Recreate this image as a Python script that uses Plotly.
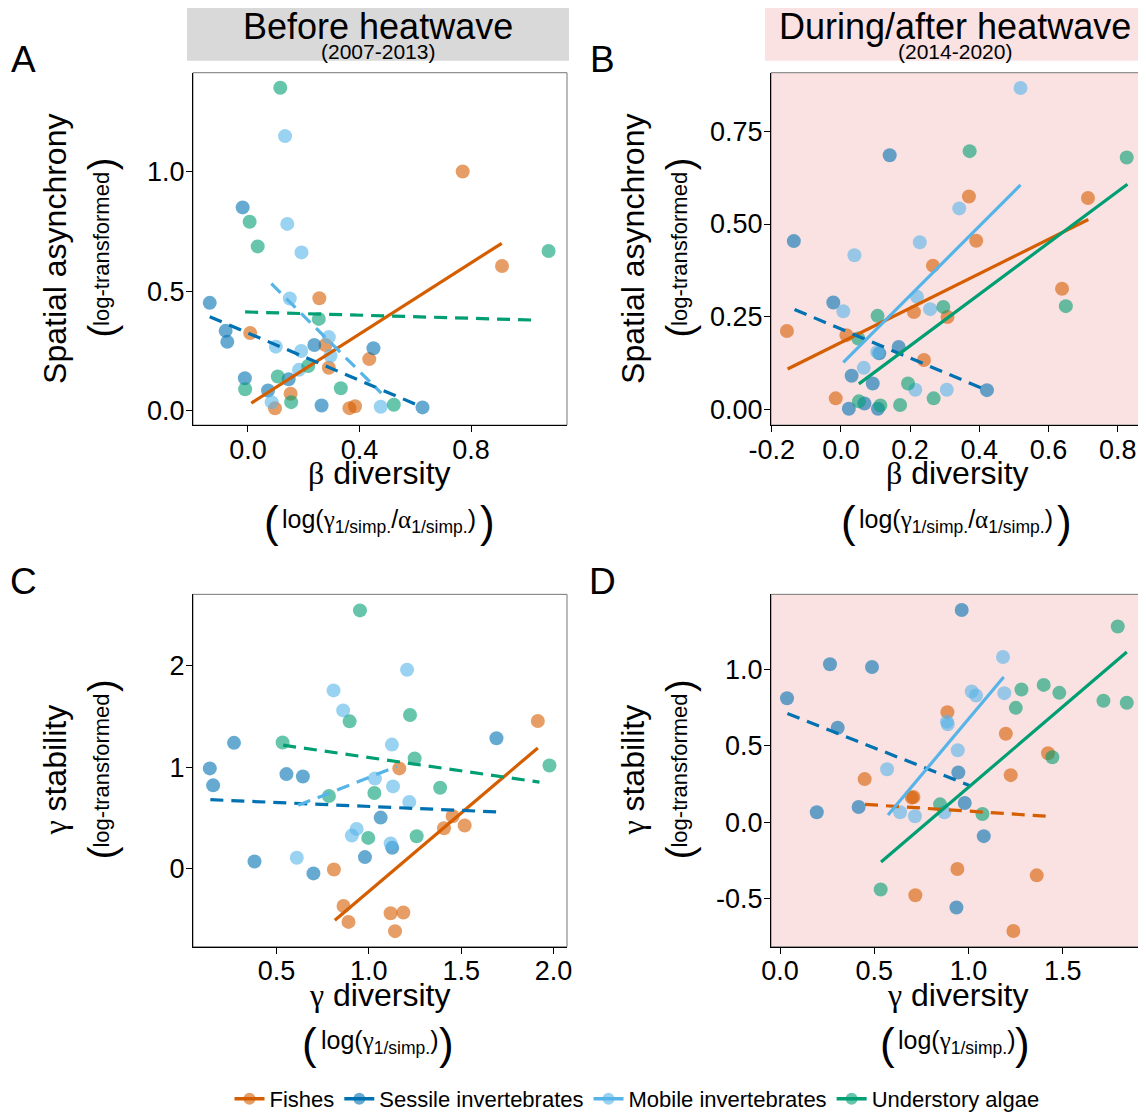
import plotly.graph_objects as go

# The page body has an 8px margin, so the figure is drawn 8px in from the window edge.
OFF = 8
W, H = 1146 - OFF, 1120 - OFF
FONT = "Liberation Sans, Arial, sans-serif"

groups = ["Fishes", "Sessile invertebrates", "Mobile invertebrates", "Understory algae"]
group_colors = ["#D55E00", "#0072B2", "#56B4E9", "#009E73"]

# ---------------- Panel A (before, beta diversity vs asynchrony) ----------------
a_fishes_x = [0.770, 0.911, 0.256, 0.008, 0.278, 0.290, 0.435, 0.153, 0.097, 0.364, 0.384]
a_fishes_y = [1.000, 0.605, 0.470, 0.325, 0.275, 0.180, 0.216, 0.071, 0.010, 0.011, 0.019]
a_sessile_x = [-0.019, -0.137, -0.080, -0.074, -0.011, 0.072, 0.146, 0.238, 0.450, 0.264, 0.626]
a_sessile_y = [0.850, 0.451, 0.334, 0.288, 0.136, 0.085, 0.132, 0.275, 0.261, 0.022, 0.014]
a_mobile_x = [0.133, 0.141, 0.192, 0.150, 0.100, 0.290, 0.191, 0.296, 0.183, 0.085, 0.476]
a_mobile_y = [1.148, 0.781, 0.662, 0.469, 0.268, 0.308, 0.250, 0.230, 0.171, 0.036, 0.017]
a_algae_x = [0.116, 0.006, 0.035, 1.078, 0.254, 0.216, 0.107, -0.010, 0.155, 0.333, 0.523]
a_algae_y = [1.350, 0.790, 0.687, 0.668, 0.384, 0.187, 0.143, 0.090, 0.036, 0.094, 0.025]
a_fit_x = [[0.012, 0.910], [-0.137, 0.620], [0.084, 0.478], [-0.010, 1.027]]
a_fit_y = [[0.032, 0.700], [0.393, 0.018], [0.531, 0.074], [0.413, 0.379]]
a_fit_sig = [True, False, False, False]

# ---------------- Panel B (during/after, beta diversity vs asynchrony) ----------------
b_fishes_x = [0.370, 0.714, 0.391, 0.266, 0.639, 0.211, 0.308, 0.016, -0.156, 0.240, -0.015]
b_fishes_y = [0.574, 0.570, 0.455, 0.388, 0.326, 0.263, 0.250, 0.201, 0.212, 0.134, 0.031]
b_sessile_x = [-0.136, 0.141, -0.022, 0.167, 0.111, 0.031, 0.092, 0.023, 0.068, 0.107, 0.422]
b_sessile_y = [0.454, 0.685, 0.289, 0.169, 0.152, 0.092, 0.071, 0.003, 0.017, 0.003, 0.053]
b_mobile_x = [0.519, 0.342, 0.228, 0.039, 0.220, 0.258, 0.007, 0.066, 0.215, 0.306, 0.105]
b_mobile_y = [0.866, 0.542, 0.451, 0.416, 0.304, 0.271, 0.265, 0.113, 0.054, 0.054, 0.156]
b_algae_x = [0.372, 0.826, 0.650, 0.296, 0.106, 0.050, 0.194, 0.268, 0.052, 0.114, 0.171]
b_algae_y = [0.696, 0.679, 0.279, 0.277, 0.253, 0.192, 0.071, 0.031, 0.023, 0.012, 0.013]
b_fit_x = [[-0.154, 0.715], [-0.134, 0.421], [0.007, 0.519], [0.052, 0.828]]
b_fit_y = [[0.110, 0.512], [0.270, 0.053], [0.128, 0.605], [0.070, 0.607]]
b_fit_sig = [True, False, True, True]

# ---------------- Panel C (before, gamma diversity vs gamma stability) ----------------
c_fishes_x = [1.915, 1.165, 1.454, 1.407, 1.519, 0.811, 0.863, 0.890, 1.118, 1.187, 1.142]
c_fishes_y = [1.457, 0.989, 0.517, 0.399, 0.426, -0.007, -0.367, -0.524, -0.439, -0.432, -0.615]
c_sessile_x = [0.139, 0.157, 0.270, 0.554, 0.643, 1.691, 1.064, 1.127, 0.979, 0.381, 0.700]
c_sessile_y = [0.989, 0.822, 1.241, 0.933, 0.910, 1.286, 0.504, 0.206, 0.115, 0.072, -0.046]
c_mobile_x = [1.207, 0.809, 0.861, 1.125, 1.033, 1.131, 1.219, 0.934, 0.908, 1.118, 0.610]
c_mobile_y = [1.961, 1.758, 1.561, 1.224, 0.890, 0.812, 0.658, 0.393, 0.327, 0.249, 0.108]
c_algae_x = [0.952, 1.223, 0.896, 0.533, 1.248, 1.978, 1.386, 1.030, 0.784, 0.997, 1.259]
c_algae_y = [2.547, 1.516, 1.453, 1.244, 1.087, 1.018, 0.799, 0.746, 0.717, 0.304, 0.321]
c_fit_x = [[0.816, 1.915], [0.142, 1.693], [0.617, 1.151], [0.536, 1.924]]
c_fit_y = [[-0.507, 1.191], [0.681, 0.560], [0.625, 1.008], [1.218, 0.854]]
c_fit_sig = [True, False, False, False]

# ---------------- Panel D (during/after, gamma diversity vs gamma stability) ----------------
d_fishes_x = [0.888, 1.198, 1.422, 1.224, 0.449, 0.699, 0.708, 0.941, 1.362, 0.718, 1.238]
d_fishes_y = [0.720, 0.579, 0.451, 0.308, 0.282, 0.161, 0.165, -0.306, -0.347, -0.477, -0.711]
d_sessile_x = [0.964, 0.265, 0.488, 0.037, 0.306, 0.946, 0.980, 0.417, 0.195, 1.081, 0.936]
d_sessile_y = [1.388, 1.033, 1.015, 0.811, 0.618, 0.325, 0.126, 0.100, 0.065, -0.091, -0.557]
d_mobile_x = [1.183, 1.017, 1.040, 1.190, 0.886, 0.890, 0.943, 0.568, 0.637, 0.716, 0.872]
d_mobile_y = [1.080, 0.855, 0.829, 0.844, 0.657, 0.640, 0.471, 0.347, 0.065, 0.039, 0.065]
d_algae_x = [1.792, 1.281, 1.399, 1.482, 1.716, 1.840, 1.251, 1.445, 0.849, 1.074, 0.534]
d_algae_y = [1.280, 0.868, 0.898, 0.846, 0.794, 0.781, 0.748, 0.425, 0.117, 0.054, -0.440]
d_fit_x = [[0.451, 1.419], [0.039, 1.008], [0.573, 1.187], [0.536, 1.840]]
d_fit_y = [[0.117, 0.039], [0.711, 0.239], [0.048, 0.950], [-0.260, 1.113]]
d_fit_sig = [False, False, True, True]

# ---------------- ticks ----------------
a_xticks = [0.0, 0.4, 0.8]; a_xtext = ["0.0", "0.4", "0.8"]
a_yticks = [0.0, 0.5, 1.0]; a_ytext = ["0.0", "0.5", "1.0"]
b_xticks = [-0.2, 0.0, 0.2, 0.4, 0.6, 0.8]; b_xtext = ["-0.2", "0.0", "0.2", "0.4", "0.6", "0.8"]
b_yticks = [0.0, 0.25, 0.5, 0.75]; b_ytext = ["0.00", "0.25", "0.50", "0.75"]
c_xticks = [0.5, 1.0, 1.5, 2.0]; c_xtext = ["0.5", "1.0", "1.5", "2.0"]
c_yticks = [0, 1, 2]; c_ytext = ["0", "1", "2"]
d_xticks = [0.0, 0.5, 1.0, 1.5]; d_xtext = ["0.0", "0.5", "1.0", "1.5"]
d_yticks = [-0.5, 0.0, 0.5, 1.0]; d_ytext = ["-0.5", "0.0", "0.5", "1.0"]

a_range = ([-0.197, 1.144], [-0.06, 1.413])
b_range = ([-0.202, 0.873], [-0.041, 0.907])
c_range = ([0.048, 2.073], [-0.769, 2.705])
d_range = ([-0.048, 1.926], [-0.814, 1.49])


def rgba(hexc, a):
    hexc = hexc.lstrip("#")
    r, g, b = int(hexc[0:2], 16), int(hexc[2:4], 16), int(hexc[4:6], 16)
    return f"rgba({r},{g},{b},{a})"


def px(x):
    return (x - OFF) / W


def py(y):
    return 1 - (y - OFF) / H


fig = go.Figure()

panels = [
    ("x", "y", [a_fishes_x, a_sessile_x, a_mobile_x, a_algae_x], [a_fishes_y, a_sessile_y, a_mobile_y, a_algae_y], a_fit_x, a_fit_y, a_fit_sig),
    ("x2", "y2", [b_fishes_x, b_sessile_x, b_mobile_x, b_algae_x], [b_fishes_y, b_sessile_y, b_mobile_y, b_algae_y], b_fit_x, b_fit_y, b_fit_sig),
    ("x3", "y3", [c_fishes_x, c_sessile_x, c_mobile_x, c_algae_x], [c_fishes_y, c_sessile_y, c_mobile_y, c_algae_y], c_fit_x, c_fit_y, c_fit_sig),
    ("x4", "y4", [d_fishes_x, d_sessile_x, d_mobile_x, d_algae_x], [d_fishes_y, d_sessile_y, d_mobile_y, d_algae_y], d_fit_x, d_fit_y, d_fit_sig),
]

for xa, ya, xs, ys, fx, fy, sig in panels:
    for i, g in enumerate(groups):
        fig.add_trace(go.Scatter(
            x=xs[i], y=ys[i], mode="markers", xaxis=xa, yaxis=ya, showlegend=False,
            marker=dict(size=14, color=rgba(group_colors[i], 0.6), line=dict(width=0)),
            hoverinfo="skip"))
    for i, g in enumerate(groups):
        fig.add_trace(go.Scatter(
            x=fx[i], y=fy[i], mode="lines", xaxis=xa, yaxis=ya, showlegend=False,
            line=dict(color=group_colors[i], width=3.2, dash="solid" if sig[i] else "13px,8px"),
            hoverinfo="skip"))

# legend entries
for i, g in enumerate(groups):
    fig.add_trace(go.Scatter(
        x=[None], y=[None], mode="lines+markers", name=g, showlegend=True,
        marker=dict(size=12, color=rgba(group_colors[i], 0.6)),
        line=dict(color=group_colors[i], width=3.5)))

xdomA = [px(193), px(567)]
xdomB = [px(771), px(1143)]
ydomTop = [py(427), py(73)]
ydomBot = [py(951), py(597)]

axis_common = dict(showline=True, linecolor="black", linewidth=1.3, ticks="outside",
                   ticklen=6, tickwidth=1.3, tickcolor="black", showgrid=False, zeroline=False,
                   tickfont=dict(size=27, color="black", family=FONT), automargin=False,
                   fixedrange=True)
xcommon = dict(ticklabelstandoff=-6, **axis_common)
ycommon = dict(ticklabelstandoff=-4, **axis_common)

fig.update_layout(
    xaxis=dict(domain=xdomA, range=a_range[0], anchor="y", tickvals=a_xticks, ticktext=a_xtext, **xcommon),
    yaxis=dict(domain=ydomTop, range=a_range[1], anchor="x", tickvals=a_yticks, ticktext=a_ytext, **ycommon),
    xaxis2=dict(domain=xdomB, range=b_range[0], anchor="y2", tickvals=b_xticks, ticktext=b_xtext, **xcommon),
    yaxis2=dict(domain=ydomTop, range=b_range[1], anchor="x2", tickvals=b_yticks, ticktext=b_ytext, **ycommon),
    xaxis3=dict(domain=xdomA, range=c_range[0], anchor="y3", tickvals=c_xticks, ticktext=c_xtext, **xcommon),
    yaxis3=dict(domain=ydomBot, range=c_range[1], anchor="x3", tickvals=c_yticks, ticktext=c_ytext, **ycommon),
    xaxis4=dict(domain=xdomB, range=d_range[0], anchor="y4", tickvals=d_xticks, ticktext=d_xtext, **xcommon),
    yaxis4=dict(domain=ydomBot, range=d_range[1], anchor="x4", tickvals=d_yticks, ticktext=d_ytext, **ycommon),
)

PINK = "#FBE2E2"
shapes = []
for xr, yr in [("x2", "y2"), ("x4", "y4")]:
    shapes.append(dict(type="rect", xref=f"{xr} domain", yref=f"{yr} domain", x0=0, x1=1, y0=0, y1=1,
                       fillcolor=PINK, line=dict(width=0), layer="below"))
for xr, yr in [("x", "y"), ("x2", "y2"), ("x3", "y3"), ("x4", "y4")]:
    shapes.append(dict(type="rect", xref=f"{xr} domain", yref=f"{yr} domain", x0=0, x1=1, y0=0, y1=1,
                       fillcolor="rgba(0,0,0,0)", line=dict(width=1, color="#777777"), layer="below"))
shapes.append(dict(type="rect", xref="paper", yref="paper", x0=px(187), x1=px(569), y0=py(61), y1=py(5),
                   fillcolor="#D9D9D9", line=dict(width=0)))
shapes.append(dict(type="rect", xref="paper", yref="paper", x0=px(765), x1=px(1143), y0=py(61), y1=py(5),
                   fillcolor=PINK, line=dict(width=0)))

ann = []


def add_text(text, x, y, size, angle=0, xanchor="center", yanchor="middle"):
    ann.append(dict(text=text, x=px(x), y=py(y), xref="paper", yref="paper", showarrow=False,
                    font=dict(size=size, color="black", family=FONT), textangle=angle,
                    xanchor=xanchor, yanchor=yanchor))


# headers
add_text("Before heatwave", 378, 27, 36)
add_text("(2007-2013)", 378, 52, 21)
add_text("During/after heatwave", 955, 27, 36)
add_text("(2014-2020)", 955, 52, 21)

# panel letters
add_text("A", 24, 60, 37)
add_text("B", 602, 60, 37)
add_text("C", 24, 584, 37)
add_text("D", 602, 584, 37)

GR = "<span style='font-family:Liberation Serif'>{}</span>"
beta = GR.format("β")
gamma = GR.format("γ")
alpha = GR.format("α")

# y-axis titles
for left, cy, main in [(193, 250, "Spatial asynchrony"), (771, 250, "Spatial asynchrony"),
                       (193, 774, gamma + " stability"), (771, 774, gamma + " stability")]:
    add_text(main, left - 138, cy, 32, angle=-90)
    add_text("log-transformed", left - 91, cy, 22, angle=-90)
    add_text("(", left - 91, cy + 83, 38, angle=-90)
    add_text(")", left - 91, cy - 85, 38, angle=-90)

# x-axis titles
for cx, bottom in [(380, 427), (957, 427)]:
    add_text(beta + " diversity", cx, bottom + 48, 32)
    add_text("log(" + gamma + "<sub>1/simp.</sub>/" + alpha + "<sub>1/simp.</sub>)", cx - 1, bottom + 96, 25)
    add_text("(", cx - 109, bottom + 97, 44)
    add_text(")", cx + 107, bottom + 97, 44)
for cx, bottom in [(380, 951), (957, 951)]:
    add_text(gamma + " diversity", cx, bottom + 48, 32)
    add_text("log(" + gamma + "<sub>1/simp.</sub>)", cx - 1, bottom + 96, 25)
    add_text("(", cx - 70, bottom + 97, 44)
    add_text(")", cx + 66, bottom + 97, 44)

fig.update_layout(
    width=W, height=H,
    margin=dict(l=0, r=0, t=0, b=0),
    paper_bgcolor="white", plot_bgcolor="white",
    font=dict(family=FONT, color="black"),
    shapes=shapes, annotations=ann,
    legend=dict(orientation="h", x=px(637), xanchor="center", y=py(1104), yanchor="middle",
                font=dict(size=22, family=FONT, color="black"), bgcolor="rgba(0,0,0,0)"),
)

fig.write_html("out.html")
